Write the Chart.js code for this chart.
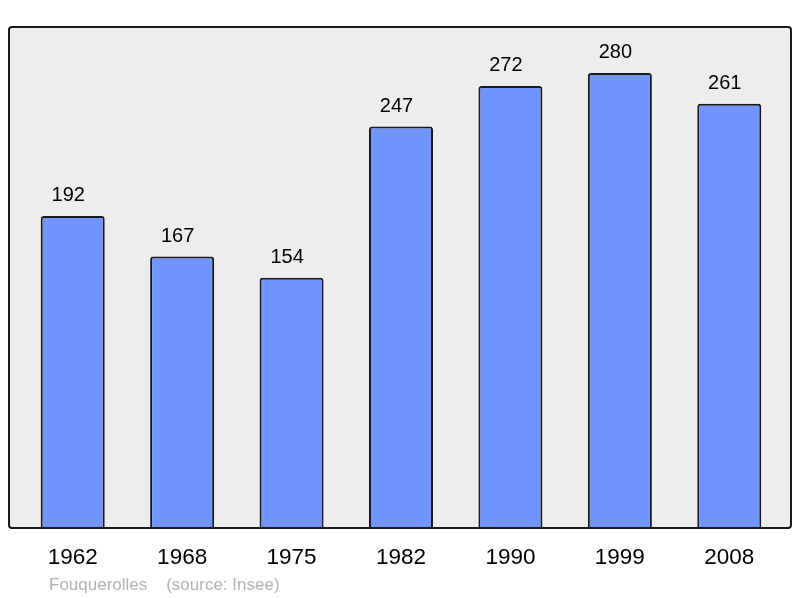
<!DOCTYPE html>
<html>
<head>
<meta charset="utf-8">
<script src="https://cdn.jsdelivr.net/npm/chart.js@4"></script>
<style>
html,body{margin:0;padding:0;background:#fff;}
#wrap{width:800px;height:598px;position:relative;}
</style>
</head>
<body>
<div id="wrap"><canvas id="c" width="800" height="598"></canvas></div>
<script>
const years = ["1962","1968","1975","1982","1990","1999","2008"];
const population = [192,167,154,247,272,280,261];
const footerText = "Fouquerolles    (source: Insee)";

const framePlugin = {
  id: 'frame',
  beforeDatasetsDraw(chart) {
    const {ctx, chartArea: a} = chart;
    ctx.save();
    ctx.fillStyle = '#ededed';
    roundRect(ctx, a.left - 9, a.top, a.right - a.left + 16, a.bottom - a.top, 3);
    ctx.fill();
    ctx.restore();
  },
  afterDatasetsDraw(chart) {
    const {ctx, chartArea: a} = chart;
    ctx.save();
    ctx.strokeStyle = '#1a1a1a';
    ctx.lineWidth = 2;
    roundRect(ctx, a.left - 9, a.top, a.right - a.left + 16, a.bottom - a.top, 3);
    ctx.stroke();
    // value labels
    const meta = chart.getDatasetMeta(0);
    ctx.fillStyle = '#000';
    ctx.font = '20px "Liberation Sans", Arial, sans-serif';
    ctx.textAlign = 'center';
    ctx.textBaseline = 'alphabetic';
    meta.data.forEach((bar, i) => {
      ctx.fillText(String(population[i]), bar.x - 4.5, bar.y - 15);
    });
    // footer
    ctx.fillStyle = '#b3b3b3';
    ctx.font = '17px "Liberation Sans", Arial, sans-serif';
    ctx.textAlign = 'left';
    ctx.fillText(footerText, 49, 590);
    ctx.restore();
  }
};
function roundRect(ctx, x, y, w, h, r) {
  ctx.beginPath();
  ctx.moveTo(x + r, y);
  ctx.lineTo(x + w - r, y);
  ctx.arcTo(x + w, y, x + w, y + r, r);
  ctx.lineTo(x + w, y + h - r);
  ctx.arcTo(x + w, y + h, x + w - r, y + h, r);
  ctx.lineTo(x + r, y + h);
  ctx.arcTo(x, y + h, x, y + h - r, r);
  ctx.lineTo(x, y + r);
  ctx.arcTo(x, y, x + r, y, r);
  ctx.closePath();
}

new Chart(document.getElementById('c'), {
  type: 'bar',
  data: {
    labels: years,
    datasets: [{
      data: population,
      backgroundColor: '#7095ff',
      borderColor: '#1a1a1a',
      borderWidth: 2,
      borderRadius: 3,
      borderSkipped: 'bottom',
      categoryPercentage: 1,
      barPercentage: 0.585
    }]
  },
  options: {
    responsive: false,
    animation: false,
    events: [],
    layout: { padding: { left: 18, right: 16, top: 27, bottom: 0 } },
    plugins: { legend: { display: false }, tooltip: { enabled: false }, title: { display: false } },
    scales: {
      x: {
        grid: { display: false, drawTicks: false },
        border: { display: false },
        ticks: {
          color: '#000',
          font: { family: '"Liberation Sans", Arial, sans-serif', size: 22.5 },
          padding: 16,
          maxRotation: 0
        },
        afterFit(scale) { scale.height = 70; }
      },
      y: {
        display: false,
        min: 0,
        max: 308.3
      }
    }
  },
  plugins: [framePlugin]
});
</script>
</body>
</html>
